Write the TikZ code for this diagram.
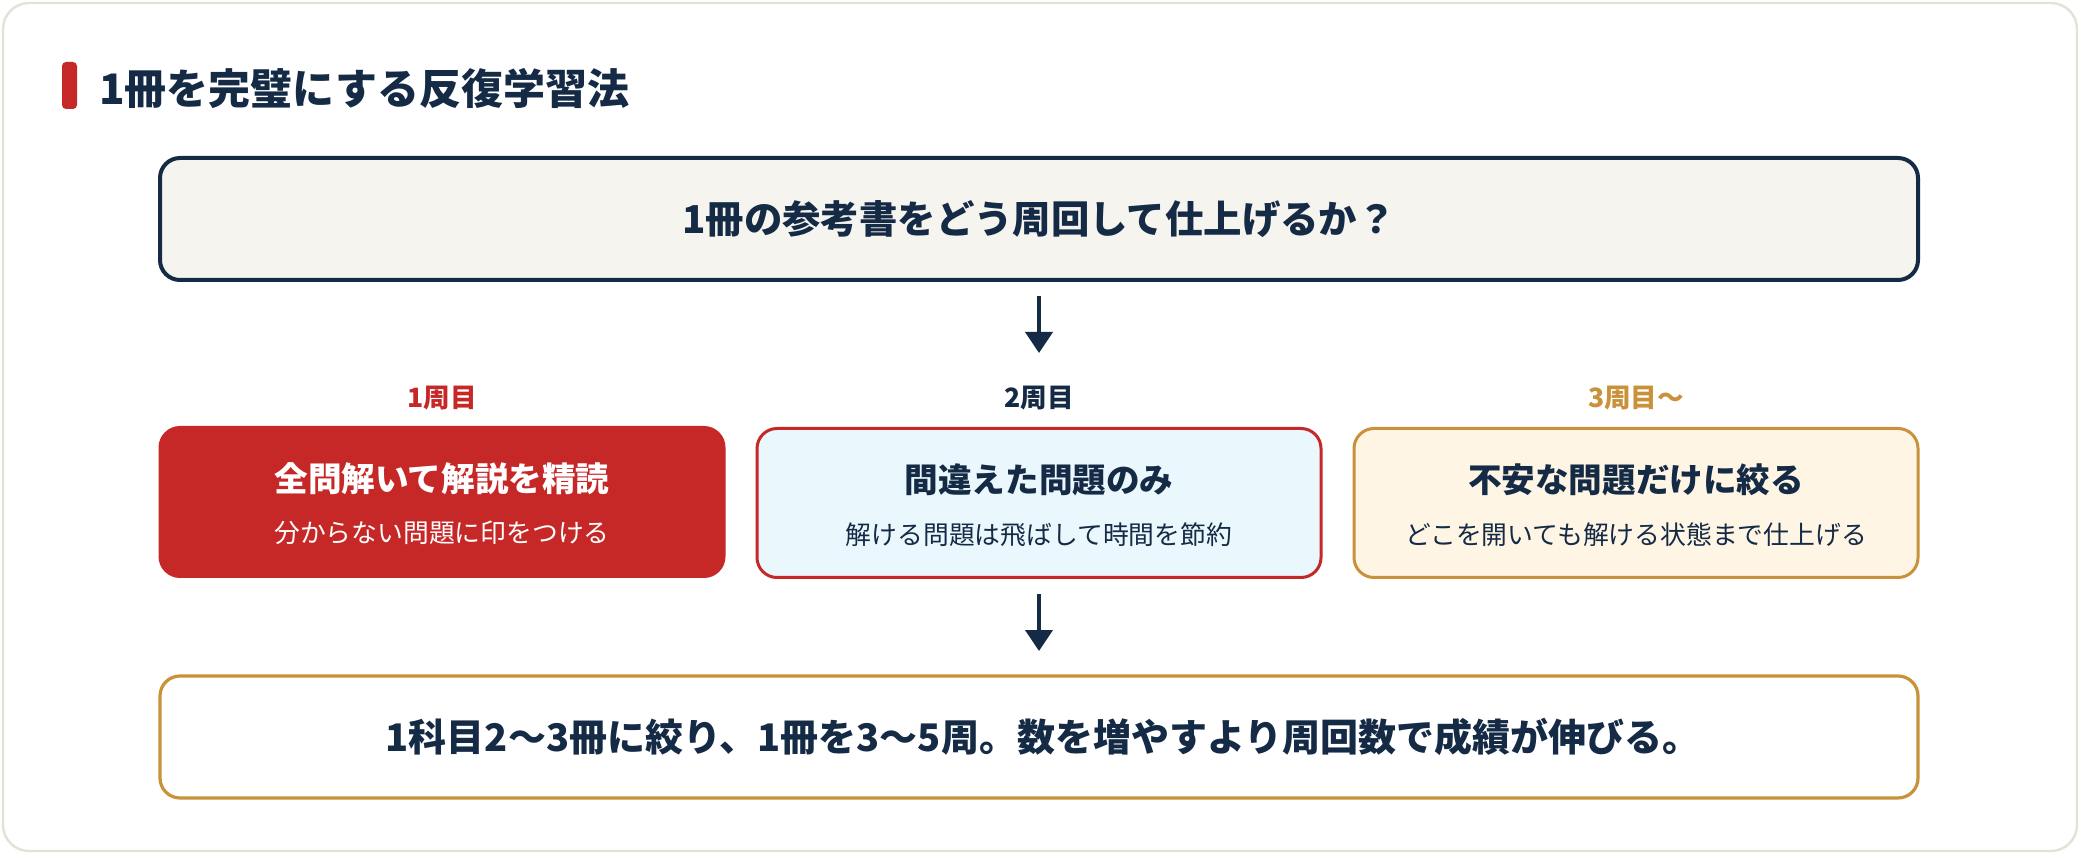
\documentclass[tikz,border=0pt]{standalone}
\usepackage{fontspec}
\setmainfont{Noto Sans CJK JP}
\usetikzlibrary{arrows.meta}
\definecolor{navy}{HTML}{142A45}
\definecolor{myred}{HTML}{C62828}
\definecolor{gold}{HTML}{C9923A}
\definecolor{lblue}{HTML}{EAF7FC}
\definecolor{cream}{HTML}{FEF5E4}
\definecolor{paper}{HTML}{F6F4EF}
\definecolor{cardline}{HTML}{E4E1D6}
\tikzset{
  wide/.style={draw, rounded corners=10pt, minimum width=879pt, minimum height=61pt, inner sep=0pt},
  stage/.style={draw, rounded corners=10pt, minimum width=282pt, minimum height=74.5pt, line width=1.5pt, inner sep=0pt},
  big/.style={font=\bfseries\fontsize{19.2pt}{22pt}\selectfont, text=navy, inner sep=0pt},
  lab/.style={font=\bfseries\fontsize{13.3pt}{16pt}\selectfont, inner sep=0pt},
  stitle/.style={font=\bfseries\fontsize{16.8pt}{20pt}\selectfont, inner sep=0pt},
  ssub/.style={font=\fontsize{12.9pt}{16pt}\selectfont, inner sep=0pt},
  arr/.style={draw=navy, line width=2pt, -{Triangle[length=10.5pt,width=13.5pt]}},
}
\begin{document}
\begin{tikzpicture}[x=0.5pt,y=-0.5pt]
\useasboundingbox (0,0) rectangle (2080,854);
\fill[white] (0,0) rectangle (2080,854);
\draw[cardline, line width=1.2pt, rounded corners=13pt, fill=white] (3,3) rectangle (2077,851);
% title
\fill[myred, rounded corners=2pt] (62,62) rectangle (77,109);
\node[anchor=west, inner sep=0pt, text=navy, font=\bfseries\fontsize{21pt}{25pt}\selectfont] (title) at (99,88) {1冊を完璧にする反復学習法};
% top question
\node[wide, draw=navy, fill=paper, line width=2pt] (top) at (1039,219) {};
\node[big] (q) at (top.center) {1冊の参考書をどう周回して仕上げるか？};
% arrow 1
\draw[arr] ([yshift=-7pt]top.south) -- ++(0,57);
% labels
\node[lab, text=myred] (l1) at (442,398) {1周目};
\node[lab, text=navy] (l2) at (1039,398) {2周目};
\node[lab, text=gold] (l3) at (1636,398) {3周目〜};
% stage boxes
\node[stage, draw=myred, fill=myred] (s1) at (442,502) {};
\node[stage, draw=myred, fill=lblue] (s2) at (1039,503) {};
\node[stage, draw=gold, fill=cream] (s3) at (1636,503) {};
\node[stitle, text=white] (t1) at (442,479) {全問解いて解説を精読};
\node[ssub, text=white] (u1) at (442,533) {分からない問題に印をつける};
\node[stitle, text=navy] (t2) at (1039,480) {間違えた問題のみ};
\node[ssub, text=navy] (u2) at (1039,535) {解ける問題は飛ばして時間を節約};
\node[stitle, text=navy] (t3) at (1636,480) {不安な問題だけに絞る};
\node[ssub, text=navy] (u3) at (1636,535) {どこを開いても解ける状態まで仕上げる};
% arrow 2
\draw[arr] ([yshift=-7.5pt]s2.south) -- ++(0,57);
% bottom
\node[wide, draw=gold, fill=white, line width=1.6pt] (bot) at (1039,737) {};
\node[big, font=\bfseries\fontsize{19pt}{22pt}\selectfont] (b) at ([xshift=2pt]bot.center) {1科目2〜3冊に絞り、1冊を3〜5周。数を増やすより周回数で成績が伸びる。};
\end{tikzpicture}
\end{document}
